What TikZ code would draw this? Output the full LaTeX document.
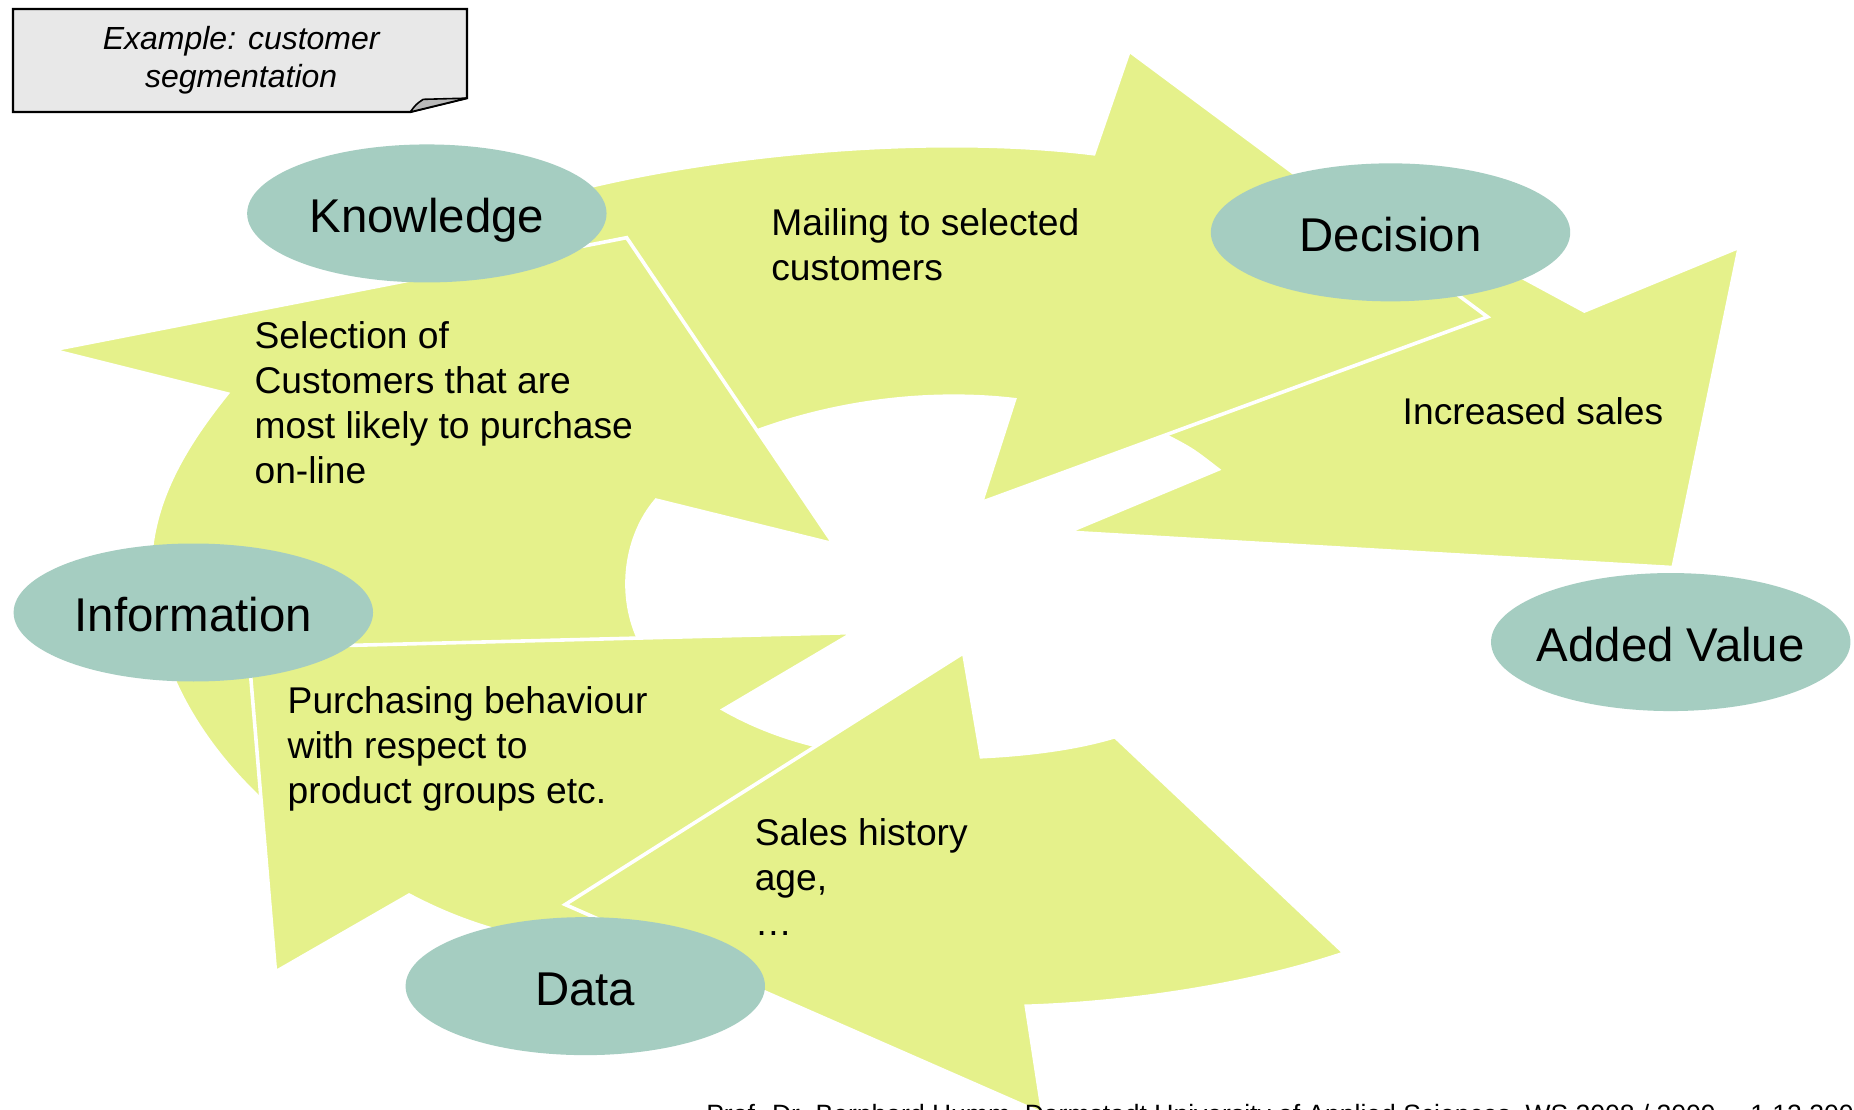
\documentclass[tikz,border=0pt]{standalone}
\usepackage{fontspec}
\setmainfont{Liberation Sans}
\usetikzlibrary{shapes.geometric}
\definecolor{arrowfill}{RGB}{229,241,139}
\definecolor{ellfill}{RGB}{165,205,193}
\definecolor{notefill}{RGB}{232,232,232}
\definecolor{foldfill}{RGB}{185,185,185}
\begin{document}
\begin{tikzpicture}[x=0.5912pt,y=-0.5912pt,
  bigarrow/.style={fill=arrowfill,draw=white,line width=1.8pt,line join=miter},
  stage/.style={ellipse,fill=ellfill,inner sep=0pt,minimum width=179.7pt,minimum height=69pt,
    label={[font=\fontsize{23.7}{28}\selectfont,inner sep=0pt,text height=22pt,text depth=3pt]center:#1}},
  bodytext/.style={anchor=north west,inner sep=0pt,align=left,font=\fontsize{18.6}{22.5}\selectfont},
  notebox/.style={fill=notefill,draw=black,line width=1.1pt,line join=miter},
  foldbox/.style={fill=foldfill,draw=black,line width=0.8pt,line join=round},
  notetext/.style={anchor=north,inner sep=0pt,align=center,font=\fontsize{16}{18.9}\selectfont\itshape},
  footer/.style={anchor=base west,inner sep=0pt,font=\fontsize{13.25}{16}\selectfont}]
\useasboundingbox (0,0) rectangle (1568,938);
\clip (0,0) rectangle (1568,938);
\fill[white] (0,0) rectangle (1568,938);

% Increased sales arrow
\path[bigarrow] (1240,209) -- (1340,263) -- (1471,209) -- (1415,480) -- (903,450) -- (1030,397)
  .. controls (1008,380) .. (985,368) -- cycle;
% Mailing arrow
\path[bigarrow] (420,200) -- (470,165) .. controls (590,132) and (780,112) .. (925,130)
  -- (955,43) -- (1258,268) -- (830,425) -- (858,338)
  .. controls (790,330) and (710,338) .. (636,366) -- (600,380) -- cycle;
% Selection arrow
\path[bigarrow] (530,201) -- (705,460) -- (555,423) .. controls (530,452) and (522,500) .. (540,540)
  -- (552,565) -- (245,700) -- (225,680) .. controls (170,630) and (126,560) .. (127,480)
  .. controls (128,430) and (150,385) .. (192,333) -- (44,296) -- cycle;
% Purchasing arrow
\path[bigarrow] (210,548) -- (722,535) -- (612,600) .. controls (635,613) and (660,623) .. (688,630)
  -- (725,642) -- (525,805) -- (440,792) .. controls (410,785) and (380,775) .. (346,757)
  -- (233,822) -- cycle;
% Sales history arrow
\path[bigarrow] (478,765) -- (815,552) -- (830,640) .. controls (870,638) and (910,633) .. (943,623)
  -- (1137,806) .. controls (1060,832) and (960,848) .. (868,851) -- (882,942) -- cycle;

% stages
\node[stage=Knowledge] (know) at (361,180.5) {};
\node[stage=Decision] (dec) at (1176,196.5) {};
\node[stage=Information] (info) at (163.5,518) {};
\node[stage=Added Value] (added) at (1413,543) {};
\node[stage=Data] (data) at (495,834) {};

% texts
\node[bodytext] (mail) at (652,176) {Mailing to selected\\customers};
\node[bodytext] (sel) at (215,272) {Selection of\\Customers that are\\most likely to purchase\\on-line};
\node[bodytext] (purch) at (243,580) {Purchasing behaviour\\with respect to\\product groups etc.};
\node[bodytext] (sales) at (638,692) {Sales history\\age,\\…};
\node[bodytext] (inc) at (1186,336) {Increased sales};

% note
\path[notebox] (11,7.6) -- (395,7.6) -- (395,83) -- (347,94.7) -- (11,94.7) -- cycle;
\path[foldbox] (347,94.7) .. controls (352,88) .. (358,84) -- (395,83) -- cycle;
\node[notetext] (note) at (204,22.3) {Example: customer\\segmentation};

% footer (cut off at the page edge, as in the original)
\node[footer] (foot) at (597,950.5) {Prof. Dr. Bernhard Humm, Darmstadt University of Applied Sciences, WS 2008 / 2009};
\node[footer] (date) at (1480,950.5) {1.12.2008};
\end{tikzpicture}
\end{document}
